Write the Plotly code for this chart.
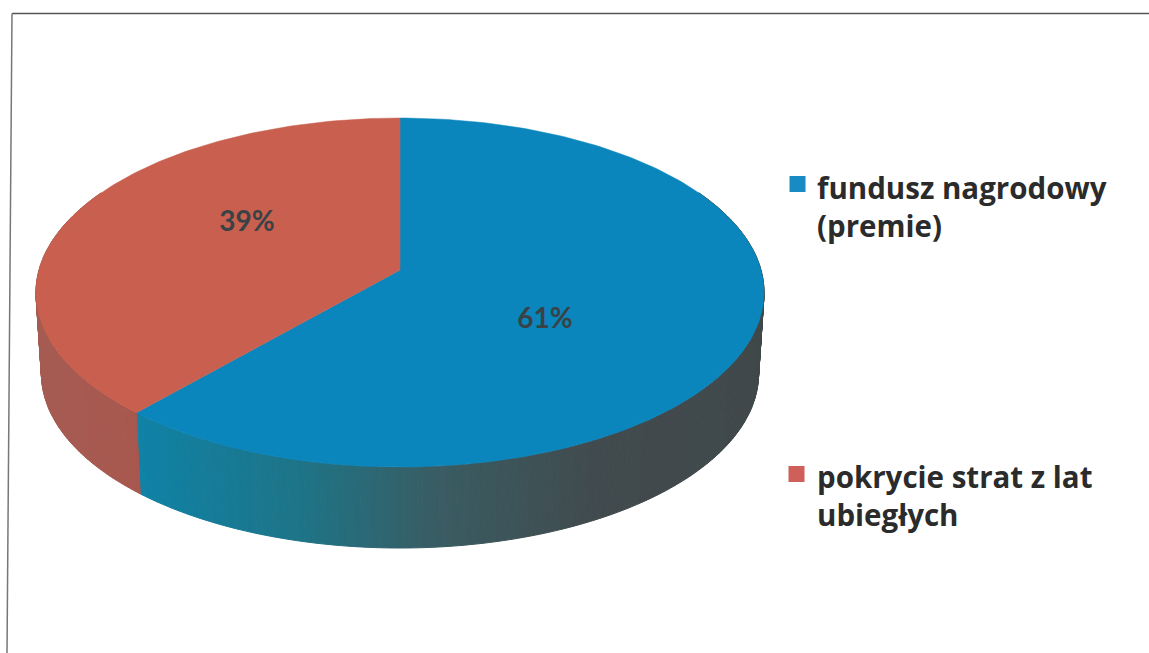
import math
import plotly.graph_objects as go

# Data
categories = ["fundusz nagrodowy<br>(premie)", "pokrycie strat z lat<br>ubiegłych"]
shares = [61, 39]
top_colors = ["#0b86bd", "#c9604f"]
legend_colors = ["#1a8ac4", "#cf5f59"]
text_color = "#3a4246"
legend_marker_x = [797.5, 796.5]
legend_marker_y = [184, 474]
legend_text_y = [206, 495]

# Wall shading stops: (screen x, rgb)
wall_stops_blue = [(137, (15, 130, 166)), (300, (30, 116, 135)), (440, (58, 92, 98)),
                   (600, (65, 74, 77)), (770, (64, 72, 74))]
wall_stops_red = [(30, (165, 92, 82)), (137, (168, 87, 78))]

# Pie projection (page pixels)
CX, CY = 400.0, 270.0
A, C, D = 171.6, 0.129, 361.0
DEPTH = 81.0
BOTTOM_SCALE = 0.985
WARP = 1.7


def project(theta_deg):
    t = math.radians(theta_deg + WARP * math.sin(math.radians(2 * theta_deg)))
    u, v = math.sin(t), math.cos(t)
    w = 1 + C * v
    return CX + D * u / w, CY - A * v / w


def shade(stops, x):
    if x <= stops[0][0]:
        return "rgb(%d,%d,%d)" % stops[0][1]
    for (x0, c0), (x1, c1) in zip(stops, stops[1:]):
        if x <= x1:
            f = (x - x0) / (x1 - x0)
            return "rgb(%d,%d,%d)" % tuple(round(a + (b - a) * f) for a, b in zip(c0, c1))
    return "rgb(%d,%d,%d)" % stops[-1][1]


def wall_point(theta):
    x, y = project(theta)
    return CX + (x - CX) * BOTTOM_SCALE, y + DEPTH


fig = go.Figure()

# Side wall strips, computed from the shares
boundary = shares[0] / sum(shares) * 360
STEP = 0.75
n = int((300 - 60) / STEP)
for i in range(n):
    a0 = 60 + i * STEP
    a1 = a0 + STEP
    for lo, hi, stops in ((a0, min(a1, boundary), wall_stops_blue),
                          (max(a0, boundary), a1, wall_stops_red)):
        if hi <= lo:
            continue
        p0, p1 = project(lo), project(hi)
        q1, q0 = wall_point(hi), wall_point(lo)
        col = shade(stops, (p0[0] + p1[0]) / 2)
        fig.add_trace(go.Scatter(
            x=[p0[0], p1[0], q1[0], q0[0], p0[0]],
            y=[p0[1], p1[1], q1[1], q0[1], p0[1]],
            mode="lines", fill="toself", fillcolor=col,
            line=dict(color=col, width=1.0),
            hoverinfo="skip", showlegend=False))

# Top face sectors
start = 0.0
for share, color in zip(shares, top_colors):
    sweep = share / sum(shares) * 360
    steps = int(sweep)
    pts = [project(start + sweep * k / steps) for k in range(steps + 1)]
    xs = [CX] + [p[0] for p in pts] + [CX]
    ys = [CY] + [p[1] for p in pts] + [CY]
    fig.add_trace(go.Scatter(x=xs, y=ys, mode="lines", fill="toself", fillcolor=color,
                             line=dict(color=color, width=0.5),
                             hoverinfo="skip", showlegend=False))
    start += sweep

# Percent labels
fig.add_trace(go.Scatter(
    x=[545, 247], y=[321, 224], mode="text",
    text=[f"<b>{s}%</b>" for s in shares],
    textposition="middle center",
    textfont=dict(family="Lato", size=28, color=text_color),
    hoverinfo="skip", showlegend=False))

# Legend keys and labels
fig.add_trace(go.Scatter(
    x=legend_marker_x, y=legend_marker_y, mode="markers",
    marker=dict(symbol="square", size=16, color=legend_colors),
    hoverinfo="skip", showlegend=False))

annotations = [
    dict(x=815, y=ty, xref="x", yref="y", text=f"<b>{name}</b>", showarrow=False,
         xanchor="left", yanchor="middle", align="left",
         font=dict(family="Open Sans", size=29.5, color="#2b2b2b"))
    for name, ty in zip(categories, legend_text_y)
]

fig.update_layout(
    width=1149, height=653,
    margin=dict(l=0, r=0, t=0, b=0),
    paper_bgcolor="white", plot_bgcolor="white",
    showlegend=False,
    xaxis=dict(range=[0, 1149], visible=False, fixedrange=True),
    yaxis=dict(range=[653, 0], visible=False, fixedrange=True),
    annotations=annotations,
    shapes=[
        dict(type="line", x0=12, y0=13.5, x1=1149, y1=13.5, xref="x", yref="y",
             line=dict(color="#555555", width=1.5)),
        dict(type="line", x0=12, y0=13.5, x1=7, y1=653, xref="x", yref="y",
             line=dict(color="#777777", width=1.5)),
    ],
)
fig.write_html("out.html", config={"displayModeBar": False},
               post_script="document.body.style.margin='0';")
